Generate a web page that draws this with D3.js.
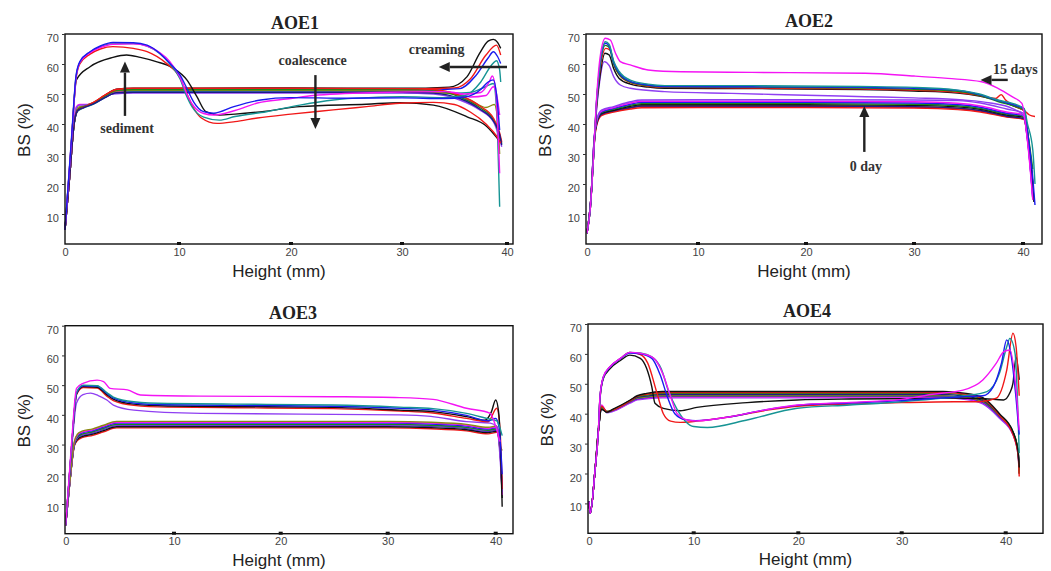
<!DOCTYPE html>
<html>
<head>
<meta charset="utf-8">
<script src="https://cdn.jsdelivr.net/npm/d3@7"></script>
<style>
  body { margin: 0; background: #fff; }
  svg { display: block; }
  .tick text { font: 11px Arial, "Liberation Sans", sans-serif; fill: #444; }
  .title { font: bold 18px "Liberation Serif", "Times New Roman", serif; fill: #222; }
  .note { font: bold 14px "Liberation Serif", "Times New Roman", serif; fill: #333; }
  .alabel { font: 17px Arial, "Liberation Sans", sans-serif; fill: #222; }
</style>
</head>
<body>
<svg id="chart" width="1051" height="571"></svg>
<script>
// Height (mm) ticks and BS (%) ticks
const xTicks = [0, 10, 20, 30, 40];
const yTicks = [10, 20, 30, 40, 50, 60, 70];

// ---- AOE1 ----
const aoe1Initial = [
  {name: "black", pts: [[0,4.7],[0.4,22],[0.8,40],[1.1,44.3],[1.6,45.5],[2.5,47],[3.5,49.5],[4.5,51.6],[6,51.9],[20,52],[30,51.9],[34.5,52.3],[36.2,55.8],[37.4,63.6],[38.2,67.6],[38.7,68.2],[39.1,67.2],[39.4,65.2]]},
  {name: "red", pts: [[0,4.7],[0.4,22],[0.8,40.5],[1.1,44.8],[1.6,45.8],[2.5,47.2],[3.5,49.6],[4.5,51.5],[6,51.8],[20,51.8],[30,51.7],[35,52],[36.5,55],[38,63],[39,66.3],[39.4,63]]},
  {name: "blue", pts: [[0,4.7],[0.4,22],[0.8,40],[1.1,44.5],[1.6,45.6],[2.5,46.8],[3.5,49],[4.5,50.8],[6,51.1],[20,51.1],[30,51],[35.5,51.8],[37,56],[38.2,62],[38.7,64.1],[39.1,62.5],[39.4,60.2]]},
  {name: "teal", pts: [[0,4.7],[0.4,22],[0.8,40],[1.1,44.3],[1.6,45.3],[2.5,46.6],[3.5,48.8],[4.5,50.5],[6,50.7],[20,50.6],[30,50.5],[35,50.3],[36.5,50.5],[38,52.5],[38.7,53.5],[39,45],[39.2,25],[39.3,12.4]]},
  {name: "magenta", pts: [[0,4.7],[0.4,22],[0.8,41],[1,45.8],[1.3,46.5],[2,46.5],[3,48],[4.2,50.4],[6,51.3],[20,51.4],[30,51.3],[35,50.5],[36.5,49],[38,49.5],[38.7,52.4],[39,50],[39.3,43]]},
  {name: "olive", pts: [[0,4.7],[0.4,22],[0.8,40],[1.1,45.5],[1.6,46],[2.5,47],[3.5,49.2],[4.5,51],[6,51.2],[20,51.2],[30,51],[35,50],[36.5,48],[38,45.5],[38.8,46.5],[39.1,42],[39.3,30]]},
  {name: "purple", pts: [[0,4.7],[0.4,22],[0.8,40.5],[1,45.5],[1.3,46.3],[2,46.4],[3,47.8],[4.2,50],[6,50.3],[20,50.3],[30,50.3],[33,50],[35.5,48],[37.4,44.7],[38.7,40.8],[39.3,35],[39.5,32.4]]},
  {name: "green", pts: [[0,4.7],[0.4,22],[0.8,40],[1.1,44.8],[1.6,45.7],[2.5,47],[3.5,49.3],[4.5,51.2],[6,51.5],[20,51.5],[30,51.5],[33,51.3],[35.5,49],[37.4,45.5],[38.7,41.5],[39.3,36],[39.5,33.5]]},
  {name: "red", pts: [[0,4.7],[0.4,22],[0.8,40],[1.1,44.6],[1.6,45.5],[2.5,47.2],[3.5,49.6],[4.5,51.5],[6,51.9],[20,51.9],[30,51.8],[33,51.5],[35.5,49.5],[37.4,46],[38.7,42],[39.3,37],[39.5,34]]},
  {name: "navy", pts: [[0,4.7],[0.4,22],[0.8,40],[1.1,44.4],[1.6,45.4],[2.5,46.7],[3.5,48.8],[4.5,50.4],[6,50.6],[20,50.6],[30,50.6],[33,50.3],[35.5,48.5],[37.4,45],[38.7,41],[39.3,36.5],[39.5,33]]}
];
const aoe1Aged = [
  {name: "black", pts: [[0,4.7],[0.5,30],[1,54.7],[2.2,59.1],[4.2,62.2],[5.4,63],[6.6,62.2],[8,60.8],[9.5,58.6],[10.7,54.7],[11.6,49.1],[12.4,44.1],[13.6,43],[15,43.3],[17.8,44.3],[20.8,45.8],[26.8,46.6],[29.8,47.1],[33,46.3],[36.2,42.4],[38.1,39.1],[39.2,34.7]]},
  {name: "red", pts: [[0,4.7],[0.6,36],[0.96,55],[1.3,60],[2.2,63.3],[3.1,65],[4.2,65.8],[6,65.2],[7.2,64.1],[8.9,60.2],[10,56],[10.6,51],[11.2,46],[12,42],[13.4,40.2],[15,40.8],[17,42],[20,43.3],[23.8,44.7],[26.8,45.8],[29.8,46.9],[33,47.2],[35,46.5],[36.5,44],[38,40],[39,36],[39.4,33.6]]},
  {name: "teal", pts: [[0,4.7],[0.6,36],[0.96,55.5],[1.3,60.5],[2.2,64],[3.1,65.8],[4.2,66.8],[6,66.8],[7.2,66],[8.3,63.5],[9.2,60],[10.1,55],[10.6,50],[11.2,45.5],[12.2,42.3],[13.6,41.3],[15,42.5],[17.8,44.1],[20.8,46.3],[23.8,48],[27,48.8],[30,49.1],[34,48.8],[36,49.5],[37.5,54],[38.5,59.5],[39,61.1],[39.3,58],[39.4,54]]},
  {name: "magenta", pts: [[0,4.7],[0.6,36],[0.96,55],[1.3,60.5],[2.2,63.8],[3.1,65.5],[4.2,66.6],[6,66.7],[7.2,66],[8.3,63.8],[9.2,60.8],[10.1,55.5],[10.7,50],[11.3,46],[12.2,43.5],[13.1,43],[15,44.5],[17,47],[20,48.5],[22,49.5],[28,50.5],[34,50.8],[36,50],[37.5,50.5],[38.3,54],[38.6,56],[38.9,52],[39.3,23.6]]},
  {name: "blue", pts: [[0,4.7],[0.6,37],[0.96,55.8],[1.3,60.8],[2.2,64.1],[3.1,66],[4.2,67.2],[6,67.1],[7.2,66.3],[8.3,63.6],[9.2,60.2],[10.1,56.3],[10.7,51.9],[11.3,47.4],[12.2,44.1],[13.1,43.6],[14.9,45.8],[17.3,48],[19.9,48.8],[25,48.6],[30,48.7],[34,48.5],[36,49],[37.5,51.5],[38.2,54],[38.7,54.7],[39,50],[39.3,38]]}
];

// ---- AOE2 ----
const aoe2Initial = [
  {name: "red", pts: [[0,3.6],[0.35,15],[0.66,34],[0.9,40],[1.3,42.8],[2.4,44],[3.9,45],[4.9,45.4],[10,45.5],[20,45.5],[30,45.3],[34,44.8],[36.1,44],[38.5,42.3],[40.1,41.5],[40.4,36],[40.9,19]]},
  {name: "red", pts: [[0,3.6],[0.35,15],[0.66,34.5],[0.9,40.3],[1.3,43],[2.4,44.2],[3.9,45.3],[4.9,45.9],[10,45.9],[20,45.9],[30,45.6],[34,45.1],[36.1,44.3],[38.5,42.5],[40.1,41.6],[40.4,36],[40.9,20]]},
  {name: "navy", pts: [[0,3.6],[0.35,15],[0.66,35],[0.9,40.5],[1.3,43.2],[2.4,44.4],[3.9,45.5],[4.9,46],[10,46],[20,46],[30,45.8],[34,45.3],[36.1,44.5],[38.5,42.6],[40.1,41.8],[40.4,35],[40.9,17]]},
  {name: "black", pts: [[0,3.6],[0.35,15],[0.66,35],[0.9,40.8],[1.3,43.5],[2.4,44.6],[3.9,45.9],[4.9,46.4],[10,46.4],[20,46.4],[30,46.2],[34,45.7],[36.1,44.9],[38.5,43],[40.1,42.2],[40.4,36],[40.9,18]]},
  {name: "green", pts: [[0,3.6],[0.35,15],[0.66,35.5],[0.9,41],[1.3,43.8],[2.4,44.9],[3.9,46.2],[4.9,46.8],[10,46.8],[20,46.8],[30,46.6],[34,46.1],[36.1,45.2],[38.5,43.3],[40.1,42.5],[40.4,37],[40.9,20]]},
  {name: "blue", pts: [[0,3.6],[0.35,15],[0.66,35.5],[0.9,41.2],[1.3,44],[2.4,45.2],[3.9,46.6],[4.9,47.2],[10,47.2],[20,47.2],[30,47],[34,46.5],[36.1,45.6],[38.5,43.6],[40.1,42.8],[40.4,36],[40.9,15]]},
  {name: "magenta", pts: [[0,3.6],[0.35,15],[0.66,36],[0.9,41.5],[1.3,44.3],[2.4,45.5],[3.9,47],[4.9,47.6],[10,47.6],[20,47.6],[30,47.4],[34,46.9],[36.1,46],[38.5,44],[40.1,43],[40.4,35],[40.9,16]]},
  {name: "purple", pts: [[0,3.6],[0.35,15],[0.66,36],[0.9,41.8],[1.3,44.6],[2.4,45.8],[3.9,47.4],[4.9,48],[10,48.1],[20,48.1],[30,48],[34,47.8],[36.1,47],[38.5,45],[40.1,43.5],[40.4,36],[40.9,15]]}
];
const aoe2Aged = [
  {name: "purple", pts: [[0,3.6],[0.3,12],[0.57,28],[0.87,45],[1.17,55],[1.55,60.8],[2,59.5],[2.4,55.8],[3,53],[3.9,51.9],[7,50.8],[13.1,50.2],[20,49.6],[25.5,49.1],[30,48.7],[34.5,48],[37,47],[39,45.2],[40,43],[40.4,36],[40.9,16]]},
  {name: "black", pts: [[0,3.6],[0.3,12],[0.57,28],[0.87,46],[1.17,56],[1.62,63.6],[2,63],[2.4,58.5],[2.9,55.2],[3.9,53.3],[5.5,52.3],[7,51.9],[15,51.8],[25,51.5],[30,51],[34,50.3],[36,49.3],[37.8,47.8],[39.5,45.5],[40.1,44.5],[40.4,38],[40.9,20],[41,14]]},
  {name: "red", pts: [[0,3.6],[0.3,12],[0.57,28],[0.87,47],[1.17,58],[1.7,65.2],[2.1,64.5],[2.5,59],[3,56],[3.9,53.8],[5.5,52.6],[7,52.2],[15,52],[25,51.7],[30,51.3],[34,50.6],[36,49.5],[37.5,48.5],[38,49.8],[38.4,48],[39.5,45.5],[40.1,44.5],[40.6,43],[41.1,42.5]]},
  {name: "green", pts: [[0,3.6],[0.3,12],[0.57,28],[0.87,47.5],[1.17,59],[1.65,66.2],[2,65.5],[2.4,60],[2.9,56.5],[3.9,54],[5.5,52.8],[7,52.4],[15,52.3],[25,52],[30,51.6],[34,50.9],[36,49.6],[37.7,47.5],[39.5,45.6],[40.1,44.6],[40.4,38],[40.9,25]]},
  {name: "blue", pts: [[0,3.6],[0.3,12],[0.57,28],[0.87,48],[1.17,59.5],[1.65,66.9],[2,66],[2.4,60.5],[2.9,57],[3.9,54.2],[5.5,53],[7,52.5],[15,52.4],[25,52.2],[30,51.9],[34,51.2],[36,49.8],[37.7,47.8],[39.5,46],[40.1,45],[40.4,38],[40.9,22],[41.1,13]]},
  {name: "teal", pts: [[0,3.6],[0.3,12],[0.57,28],[0.87,48],[1.17,60],[1.65,67.4],[2,66.5],[2.4,61],[2.9,57.5],[3.9,54.6],[5.5,53.3],[7,52.8],[15,52.8],[25,52.5],[30,52.2],[34,51.3],[36,50],[37.7,48],[39.5,46.3],[40.1,45.2],[40.4,40.2],[40.9,31.3],[41.1,20]]},
  {name: "magenta", pts: [[0,3.6],[0.3,12],[0.57,28],[0.87,49],[1.17,62],[1.65,68.6],[2.1,68],[2.57,63.6],[3,60.8],[3.9,59.7],[5.5,58],[8.5,57.4],[15,57.2],[25.5,56.9],[30,56],[33.1,55.2],[36.2,54.1],[37.7,51.9],[39,49.1],[39.9,46.9],[40.4,34.7],[40.9,14.7]]}
];

// ---- AOE3 ----
const aoe3Initial = [
  {name: "red", pts: [[0,2.9],[0.4,18],[0.8,29.5],[1.1,31.4],[1.5,32.3],[2.5,33.1],[3.5,34.3],[4.7,35.6],[20,35.6],[30,35.6],[34,35.3],[37.3,34.6],[39.3,33.6],[40.1,34.1],[40.4,27.6],[40.6,14]]},
  {name: "black", pts: [[0,2.9],[0.4,18],[0.8,29.8],[1.1,31.8],[1.5,32.7],[2.5,33.5],[3.5,34.7],[4.7,36],[20,36],[30,36],[34,35.7],[37.3,35],[39.3,34],[40.1,34.5],[40.4,28],[40.6,12]]},
  {name: "navy", pts: [[0,2.9],[0.4,18],[0.8,30],[1.1,32.2],[1.5,33.1],[2.5,33.9],[3.5,35.1],[4.7,36.4],[20,36.4],[30,36.4],[34,36.1],[37.3,35.4],[39.3,34.4],[40.1,34.9],[40.4,28.4],[40.6,15]]},
  {name: "purple", pts: [[0,2.9],[0.4,18],[0.8,30],[1.1,32.4],[1.5,33.3],[2.5,34.1],[3.5,35.3],[4.7,36.6],[20,36.6],[30,36.6],[34,36.3],[37.3,35.6],[39.3,34.6],[40.1,35.1],[40.4,28.6],[40.6,15]]},
  {name: "green", pts: [[0,2.9],[0.4,18],[0.8,30.2],[1.1,32.6],[1.5,33.5],[2.5,34.3],[3.5,35.5],[4.7,36.8],[20,36.8],[30,36.8],[34,36.5],[37.3,35.8],[39.3,34.8],[40.1,35.3],[40.4,28.8],[40.6,16]]},
  {name: "blue", pts: [[0,2.9],[0.4,18],[0.8,30.5],[1.1,33],[1.5,33.9],[2.5,34.7],[3.5,35.9],[4.7,37.2],[20,37.2],[30,37.2],[34,36.9],[37.3,36.2],[39.3,35.2],[40.1,35.7],[40.4,29.2],[40.6,14]]},
  {name: "magenta", pts: [[0,2.9],[0.4,18],[0.8,30.8],[1.1,33.3],[1.5,34.2],[2.5,35],[3.5,36.2],[4.7,37.5],[20,37.5],[30,37.5],[34,37.2],[37.3,36.5],[39.3,35.5],[40.1,36],[40.4,29.5],[40.6,13]]},
  {name: "olive", pts: [[0,2.9],[0.4,18],[0.8,31],[1.1,33.6],[1.5,34.5],[2.5,35.3],[3.5,36.5],[4.7,37.8],[20,37.8],[30,37.8],[34,37.5],[37.3,36.8],[39.3,35.8],[40.1,36.3],[40.4,29.8],[40.6,28]]}
];
const aoe3Aged = [
  {name: "purple", pts: [[0,2.9],[0.56,29],[1,44],[1.6,46.8],[2.3,47.3],[3,46.5],[3.8,45],[4.4,43.3],[6.3,41.6],[12.5,40.5],[31.1,40],[34,39.5],[37.3,37.7],[39.5,37.2],[40.1,36],[40.6,14]]},
  {name: "red", pts: [[0,2.9],[0.56,30],[1,46.8],[1.6,49.2],[2.9,49],[3.8,46.3],[4.4,44.8],[6.3,43.2],[9.4,42.6],[15.6,42.4],[24.9,42.1],[31.1,41.3],[34.2,40.6],[37.3,38.8],[39.3,37.7],[40.1,42.2],[40.4,35],[40.6,15]]},
  {name: "black", pts: [[0,2.9],[0.56,30],[1,47],[1.6,49.5],[2.9,49.3],[3.8,46.8],[4.4,45.3],[6.3,43.6],[9.4,43],[15.6,42.8],[24.9,42.5],[31.1,41.6],[34.2,41.1],[37.3,39.4],[39,38.2],[39.6,41],[40,45],[40.3,40],[40.6,9.1]]},
  {name: "blue", pts: [[0,2.9],[0.56,30],[1,47.3],[1.6,49.8],[2.9,49.6],[3.8,47.2],[4.4,45.7],[6.3,44],[9.4,43.4],[15.6,43.2],[24.9,42.9],[31.1,42.2],[34.2,41.6],[37.3,39.8],[39.3,38],[40,38.8],[40.3,36],[40.6,20]]},
  {name: "teal", pts: [[0,2.9],[0.56,30],[1,47.5],[1.6,50],[2.9,49.8],[3.8,47.5],[4.4,46],[6.3,44.4],[9.4,43.8],[15.6,43.6],[24.9,43.3],[31.1,42.6],[34.2,42.1],[37.3,40.5],[39.5,38.5],[40.1,38],[40.6,33]]},
  {name: "magenta", pts: [[0,2.9],[0.56,31.5],[1,48.9],[1.6,50.6],[2.9,51.7],[3.5,51.2],[4.1,48.9],[5.7,48.4],[6.9,46.7],[12.5,46.3],[24.9,46.1],[31.1,45.8],[34.2,45.2],[37.3,42.2],[39.5,40.5],[39.8,38.3],[40.4,31]]}
];

// ---- AOE4 ----
const aoe4Initial = [
  {name: "purple", pts: [[0,10.6],[0.12,6.7],[0.58,21.2],[0.9,34.5],[1.2,42.5],[1.7,40.3],[2.3,40.8],[3.9,43.5],[4.6,44.6],[5.5,45],[7,45.3],[20,45.3],[34,45.3],[36,44.8],[37.8,43.3],[39.4,38.5],[40.7,33],[41.2,26],[41.3,20]]},
  {name: "magenta", pts: [[0,10.6],[0.12,6.7],[0.58,21.2],[0.9,34.5],[1.2,42.9],[1.7,40.7],[2.3,41],[3.9,43.7],[4.6,44.8],[5.5,45.2],[7,45.6],[20,45.6],[34,45.6],[36,45.1],[37.8,43.6],[39.4,38.8],[40.7,33.2],[41.2,26.5],[41.3,21]]},
  {name: "blue", pts: [[0,10.6],[0.12,6.7],[0.58,21.2],[0.9,34.5],[1.2,42],[1.7,40.6],[2.3,41.1],[3.9,43.9],[4.6,45],[5.5,45.4],[7,45.8],[20,45.8],[34,45.8],[36,45.3],[37.8,43.8],[39.4,39],[40.7,33.4],[41.2,26.8],[41.3,20]]},
  {name: "olive", pts: [[0,10.6],[0.12,6.7],[0.58,21.2],[0.9,34.5],[1.2,41.8],[1.7,40.5],[2.3,41.2],[3.9,44],[4.6,45.2],[5.5,45.6],[7,46],[20,46],[34,46],[36,45.5],[37.8,44],[39.4,39.2],[40.7,33.6],[41.2,27],[41.3,20]]},
  {name: "navy", pts: [[0,10.6],[0.12,6.7],[0.58,21.2],[0.9,34.5],[1.2,41.5],[1.7,40.6],[2.3,41.3],[3.9,44.2],[4.6,45.5],[5.5,45.9],[7,46.4],[20,46.4],[34,46.4],[36,45.9],[37.8,44.4],[39.4,39.4],[40.7,33.8],[41.2,27.2],[41.3,21]]},
  {name: "green", pts: [[0,10.6],[0.12,6.7],[0.58,21.2],[0.9,34.5],[1.2,42.2],[1.7,40.8],[2.3,41.4],[3.9,44.4],[4.6,45.7],[5.5,46.2],[7,46.8],[20,46.8],[34,46.8],[36,46.3],[37.8,44.8],[39.4,39.6],[40.7,34],[41.2,27.4],[41.3,20]]},
  {name: "red", pts: [[0,10.6],[0.12,6.7],[0.58,21.2],[0.9,34.5],[1.2,42.5],[1.7,40.7],[2.3,41.3],[3.9,44.3],[4.6,45.8],[5.5,46.5],[7,47.1],[20,47.1],[34,47.1],[36,46.6],[37.8,45],[39.4,39.5],[40.7,33],[41.2,26],[41.3,19]]},
  {name: "black", pts: [[0,10.6],[0.12,6.7],[0.58,21.2],[0.9,34.5],[1.2,41.5],[1.7,40.5],[2.3,41.5],[3.9,44.5],[4.6,46],[5.5,46.8],[7,47.4],[20,47.4],[34,47.4],[36,46.9],[37.8,45.4],[39.4,40],[40.7,34],[41.2,27],[41.3,22]]}
];
const aoe4Aged = [
  {name: "black", pts: [[0,10.6],[0.12,6.7],[0.58,21.2],[0.9,34.5],[1.05,45],[1.37,51.8],[2,55],[3,57.8],[3.9,59.6],[4.9,58.5],[5.5,55.2],[6,49],[6.3,43.5],[7.1,41.8],[8.7,41],[10.3,42.1],[15.1,43.7],[19.9,44.6],[25,44.9],[30,45],[35,45.2],[38,45],[39.8,44.6],[40.4,47],[40.7,50.2],[41,59],[41.3,51.3]]},
  {name: "red", pts: [[0,10.6],[0.12,6.7],[0.58,21.2],[0.9,34.5],[1.05,45.5],[1.37,52.2],[2,55.6],[3,58.4],[3.9,60.5],[4.9,59.8],[5.6,57],[6.5,46.8],[7.1,40],[7.8,37.5],[8.7,37.1],[10.3,37.5],[13.5,39],[16.7,41],[19.9,42.5],[25,43.2],[30,43.7],[35,44],[37.5,44],[39.1,45.2],[40.1,54.6],[40.7,66.9],[41,62.4],[41.3,46]]},
  {name: "teal", pts: [[0,10.6],[0.12,6.7],[0.58,21.2],[0.9,34.5],[1.05,45.5],[1.37,52.2],[2,55.6],[3,58.4],[3.9,60.5],[4.9,60.3],[6,59],[6.9,55],[7.6,47.5],[8.4,41.5],[9.2,37.5],[10,35.7],[11.3,35.4],[15.1,37.9],[19.9,41.8],[25,42.9],[30,44],[34,45.2],[36,46],[38.2,47.4],[39.4,53.5],[40.1,62.4],[40.4,65.2],[40.9,60.2],[41.2,37.9],[41.3,26.8]]},
  {name: "blue", pts: [[0,10.6],[0.12,6.7],[0.58,21.2],[0.9,34.5],[1.05,45.5],[1.37,52.2],[2,55.6],[3,58.4],[3.9,60.3],[4.9,60],[6,58.5],[6.8,53],[7.5,45.5],[8.2,40],[9.2,38],[10.2,37.7],[13.5,39],[16.7,41.2],[19.9,42.8],[25,43.6],[30,44.4],[34,45.3],[36.5,45.8],[37.8,46],[38.8,49],[39.6,57],[40.1,64.7],[40.5,60],[41,45],[41.3,33]]},
  {name: "magenta", pts: [[0,10.6],[0.12,6.7],[0.58,21.2],[0.9,34.5],[1.05,45.7],[1.37,52.4],[2,55.7],[3,58.5],[3.9,60.5],[4.9,60.2],[6.2,58.5],[7.1,52.9],[7.8,45.7],[8.4,40.1],[9.4,37.9],[10.3,37.6],[13.5,39],[16.7,41.2],[19.9,42.9],[25,43.8],[30,44.8],[33,46.5],[35.9,47.9],[37.8,51.3],[39.1,56.9],[39.8,60.7],[40.4,61.3],[41,47.9],[41.3,34.5]]}
];

const COLORS = {
  black: "#111111", red: "#f01818", blue: "#1a1aee", teal: "#169494",
  magenta: "#f414f4", purple: "#8f3ff2", olive: "#8a8a14", green: "#178a17", navy: "#1b1b88"
};
const color = d3.scaleOrdinal().domain(Object.keys(COLORS)).range(Object.values(COLORS));

const panels = [
  {title: "AOE1", titleAt: [295, 29], box: [65, 34, 513, 244], xr: [65, 179, 291, 402, 507], labelDy: 33,
   series: aoe1Initial.concat(aoe1Aged),
   notes: [
     {text: "sediment", at: [5.45, 37], arrow: [[5.26, 42.7], [5.26, 60.8]]},
     {text: "coalescence", at: [21.95, 59.7], arrow: [[22.2, 56.3], [22.2, 38.3]]},
     {text: "creaming", at: [33.3, 63.2], arrow: [[40, 59], [33.5, 59]]}
   ]},
  {title: "AOE2", titleAt: [809, 27], box: [586, 34, 1042, 244], xr: [587, 698, 806, 914, 1023], labelDy: 33,
   series: aoe2Initial.concat(aoe2Aged),
   notes: [
     {text: "15 days", at: [39.3, 56.6], arrow: [[38.6, 54.7], [36.1, 54.7]]},
     {text: "0 day", at: [25.55, 24.2], arrow: [[25.4, 30.7], [25.4, 46]]}
   ]},
  {title: "AOE3", titleAt: [293, 319], box: [65, 325.7, 513, 533.7], xr: [65.7, 174, 280.7, 387.7, 495.7], labelDy: 32,
   series: aoe3Initial.concat(aoe3Aged), notes: []},
  {title: "AOE4", titleAt: [807, 317], box: [588, 324, 1043, 533.3], xr: [589, 693.7, 798.3, 901.7, 1005.7], labelDy: 32,
   series: aoe4Initial.concat(aoe4Aged), notes: []}
];

const svg = d3.select("#chart");

function arrow(g, x1, y1, x2, y2) {
  const ang = Math.atan2(y2 - y1, x2 - x1);
  const hl = 11, hw = 5;
  const bx = x2 - hl * Math.cos(ang), by = y2 - hl * Math.sin(ang);
  g.append("line").attr("x1", x1).attr("y1", y1).attr("x2", bx).attr("y2", by)
    .attr("stroke", "#222").attr("stroke-width", 2.4);
  g.append("path")
    .attr("d", `M${x2},${y2}L${bx + hw * Math.sin(ang)},${by - hw * Math.cos(ang)}L${bx - hw * Math.sin(ang)},${by + hw * Math.cos(ang)}Z`)
    .attr("fill", "#222");
}

panels.forEach(p => {
  const [l, t, r, b] = p.box;
  const x = d3.scaleLinear().domain(xTicks).range(p.xr);
  const y = d3.scaleLinear().domain([0, 70]).range([b, t]);
  const g = svg.append("g");

  const line = d3.line()
    .x(d => x(d[0]))
    .y(d => y(d[1]))
    .curve(d3.curveMonotoneX);

  g.append("g").selectAll("path")
    .data(p.series).join("path")
      .attr("d", d => line(d.pts))
      .attr("fill", "none")
      .attr("stroke", d => color(d.name))
      .attr("stroke-width", 1.4)
      .attr("stroke-linejoin", "round");

  g.append("rect")
    .attr("x", l).attr("y", t).attr("width", r - l).attr("height", b - t)
    .attr("fill", "none").attr("stroke", "#111").attr("stroke-width", 1.4);

  // y axis
  const ya = g.append("g").attr("transform", `translate(${l},0)`)
    .call(d3.axisLeft(y).tickValues(yTicks).tickSize(3).tickPadding(3));
  ya.select(".domain").remove();
  ya.selectAll("line").attr("stroke", "#333");
  ya.selectAll("text").attr("y", 4);

  // x axis
  const xa = g.append("g").attr("transform", `translate(0,${b})`)
    .call(d3.axisBottom(x).tickValues(xTicks).tickSize(0).tickPadding(4));
  xa.select(".domain").remove();
  g.selectAll("rect.tk").data(xTicks.slice(1)).join("rect")
    .attr("class", "tk")
    .attr("x", d => x(d) - 2).attr("y", b - 2).attr("width", 4).attr("height", 3)
    .attr("fill", "#111");

  g.append("text").attr("class", "title")
    .attr("x", p.titleAt[0]).attr("y", p.titleAt[1])
    .attr("text-anchor", "middle").text(p.title);

  g.append("text").attr("class", "alabel")
    .attr("transform", `translate(${l - 35},${(t + b) / 2 - 9}) rotate(-90)`)
    .attr("text-anchor", "middle").text("BS (%)");

  g.append("text").attr("class", "alabel")
    .attr("x", (l + r) / 2 - 10).attr("y", b + p.labelDy)
    .attr("text-anchor", "middle").text("Height (mm)");

  p.notes.forEach(n => {
    g.append("text").attr("class", "note")
      .attr("x", x(n.at[0])).attr("y", y(n.at[1]))
      .attr("text-anchor", "middle").text(n.text);
    arrow(g, x(n.arrow[0][0]), y(n.arrow[0][1]), x(n.arrow[1][0]), y(n.arrow[1][1]));
  });
});
</script>
</body>
</html>
